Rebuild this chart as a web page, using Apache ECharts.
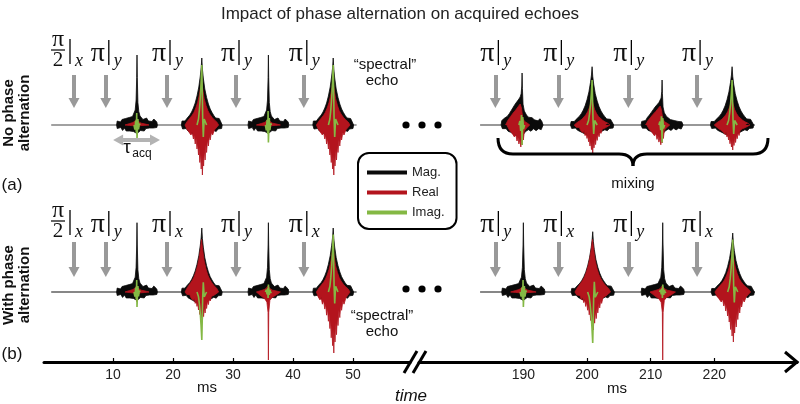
<!DOCTYPE html>
<html>
<head>
<meta charset="utf-8">
<script src="https://cdn.jsdelivr.net/npm/echarts@6/dist/echarts.min.js"></script>
<style>
  html, body { margin: 0; padding: 0; background: #fff; }
  #chart { width: 800px; height: 404px; }
</style>
</head>
<body>
<div id="chart"></div>
<script>
// time axis ticks (ms)
const leftTicks = [10, 20, 30, 40, 50];
const rightTicks = [190, 200, 210, 220];

// pulse times (ms) and pulse phase subscripts
const leftPulses = [3.5, 8.8, 19.0, 30.5, 41.8];
const rightPulses = [185.6, 195.5, 206.5, 217.3];
const topLeftPhases = ['x', 'y', 'y', 'y', 'y'];
const bottomLeftPhases = ['x', 'y', 'x', 'y', 'x'];
const topRightPhases = ['y', 'y', 'y', 'y'];
const bottomRightPhases = ['y', 'x', 'y', 'x'];

// echo centres (ms)
const leftCentres = [14.0, 24.8, 35.9, 46.7];
const topRightCentres = [189.8, 200.8, 211.8, 222.8];
const bottomRightCentres = [190.0, 200.9, 211.9, 222.9];

// echoes: [shape, mag scale, real-up scale, real-down scale, imag tip]
const topLeftEchoes = [['n', 1.0, 0.3, 0.15, -0.3], ['s', 1.0, 0.85, 1.0, 1.2], ['n', 1.0, 0.3, 0.15, -0.35], ['s', 1.0, 0.85, 1.0, 1.2]];
const bottomLeftEchoes = [['n', 0.99, 0.3, 0.2, -0.3], ['s', 0.955, 1.0, 0.6, -0.96], ['n', 0.99, 0.3, 1.36, 0.15], ['s', 0.955, 0.85, 1.22, 1.15]];
const topRightEchoes = [['a', 1.04, 1.0, 1.0, -0.4], ['s', 0.87, 0.5, 0.56, 0.9], ['a', 0.9, 0.9, 0.9, -0.35], ['s', 0.87, 0.5, 0.5, 0.9]];
const bottomRightEchoes = [['n', 0.99, 0.3, 0.15, -0.3], ['s', 0.9, 1.0, 0.76, -1.02], ['n', 0.99, 0.3, 1.36, 0.15], ['s', 0.88, 0.8, 1.0, 1.05]];

// echo envelopes: [offset ms, value]
// narrow echo
const nMagUp = [[-3.4,0],[-3.3,0.08],[-3.0,0.12],[-2.75,0.06],[-2.5,0.11],[-2.2,0.07],[-1.9,0.13],[-1.6,0.09],[-1.3,0.15],[-1.0,0.11],[-0.75,0.17],[-0.5,0.2],[-0.3,0.3],[-0.15,0.5],[-0.05,0.95],[0,1.4],[0.05,0.95],[0.15,0.45],[0.3,0.27],[0.5,0.18],[0.75,0.15],[1.0,0.11],[1.3,0.1],[1.6,0.14],[1.9,0.08],[2.2,0.12],[2.5,0.07],[2.8,0.12],[3.1,0.09],[3.3,0.06],[3.4,0]];
const nMagDn = [[-3.4,0],[-3.3,-0.07],[-3.0,-0.1],[-2.7,-0.05],[-2.4,-0.11],[-2.1,-0.06],[-1.8,-0.12],[-1.5,-0.08],[-1.2,-0.12],[-0.9,-0.09],[-0.6,-0.13],[-0.3,-0.15],[0,-0.17],[0.3,-0.14],[0.6,-0.11],[0.9,-0.08],[1.2,-0.12],[1.5,-0.07],[1.8,-0.11],[2.1,-0.06],[2.4,-0.1],[2.7,-0.06],[3.0,-0.09],[3.3,-0.05],[3.4,0]];
const nReUp = [[-2.0,0],[-1.2,0.1],[-0.7,0.16],[-0.35,0.25],[-0.1,0.4],[0,0.5],[0.1,0.35],[0.35,0.2],[0.7,0.12],[1.2,0.08],[2.0,0]];
const nReDn = [[-2.0,0],[-1.2,-0.06],[-0.6,-0.1],[-0.25,-0.15],[-0.06,-0.3],[0,-1.0],[0.06,-0.3],[0.25,-0.12],[0.6,-0.08],[1.2,-0.05],[2.0,0]];
const nIm = [[-0.5,0],[-0.35,0.3],[-0.22,-0.3],[-0.12,0.5],[-0.05,-0.8],[0,1],[0.06,0.4],[0.15,-0.4],[0.25,0.3],[0.4,-0.1],[0.5,0]];
// spectral echo
const sMagUp = [[-3.4,0],[-3.3,0.08],[-3.0,0.12],[-2.8,0.08],[-2.5,0.13],[-2.2,0.15],[-2.0,0.2],[-1.7,0.26],[-1.4,0.34],[-1.1,0.44],[-0.8,0.58],[-0.5,0.76],[-0.25,0.98],[-0.1,1.15],[0,1.34],[0.1,1.12],[0.25,0.94],[0.5,0.72],[0.8,0.55],[1.1,0.42],[1.4,0.32],[1.7,0.25],[2.0,0.19],[2.3,0.14],[2.6,0.11],[2.9,0.13],[3.1,0.08],[3.3,0.1],[3.4,0]];
const sMagDn = [[-3.4,0],[-3.2,-0.08],[-2.9,-0.11],[-2.6,-0.07],[-2.3,-0.12],[-2.0,-0.14],[-1.6,-0.17],[-1.2,-0.2],[-0.8,-0.23],[-0.4,-0.25],[0,-0.26],[0.4,-0.23],[0.8,-0.2],[1.2,-0.17],[1.6,-0.14],[2.0,-0.11],[2.4,-0.13],[2.7,-0.08],[3.0,-0.11],[3.3,-0.07],[3.4,0]];
const sReUp = [[-2.8,0],[-2.4,0.09],[-2.0,0.16],[-1.6,0.23],[-1.3,0.3],[-1.0,0.4],[-0.7,0.53],[-0.45,0.68],[-0.2,0.88],[-0.05,1.05],[0.05,0.95],[0.2,0.8],[0.4,0.62],[0.7,0.46],[1.0,0.34],[1.3,0.26],[1.7,0.18],[2.1,0.12],[2.5,0.07],[2.8,0]];
const sReDn = [[-2.8,0],[-2.5,-0.08],[-2.2,-0.13],[-2.0,-0.09],[-1.8,-0.2],[-1.6,-0.14],[-1.4,-0.28],[-1.25,-0.2],[-1.1,-0.38],[-0.95,-0.27],[-0.8,-0.48],[-0.68,-0.36],[-0.55,-0.6],[-0.45,-0.45],[-0.33,-0.75],[-0.22,-0.55],[-0.1,-0.88],[0,-0.6],[0.1,-1.0],[0.2,-0.6],[0.3,-0.82],[0.42,-0.5],[0.55,-0.7],[0.68,-0.4],[0.8,-0.55],[0.95,-0.3],[1.1,-0.42],[1.25,-0.22],[1.4,-0.3],[1.6,-0.15],[1.8,-0.2],[2.1,-0.1],[2.4,-0.12],[2.8,0]];
const sIm = [[-0.8,0],[-0.55,0.1],[-0.4,0.25],[-0.25,0.45],[-0.12,0.7],[0,1],[0.07,0.6],[0.15,0.1],[0.25,-0.2],[0.4,0.1],[0.6,0.05],[0.8,0]];
// asymmetric echo during mixing
const aMagUp = [[-3.3,0],[-3.2,0.08],[-2.9,0.12],[-2.6,0.1],[-2.3,0.17],[-2.0,0.22],[-1.7,0.28],[-1.4,0.34],[-1.1,0.4],[-0.8,0.45],[-0.5,0.5],[-0.3,0.54],[-0.15,0.6],[-0.05,0.75],[0,1.0],[0.05,0.7],[0.15,0.4],[0.35,0.27],[0.7,0.19],[1.0,0.15],[1.3,0.12],[1.6,0.14],[1.9,0.1],[2.2,0.13],[2.5,0.08],[2.8,0.12],[3.1,0.07],[3.3,0]];
const aMagDn = [[-3.3,0],[-3.1,-0.07],[-2.8,-0.1],[-2.5,-0.07],[-2.2,-0.12],[-1.8,-0.14],[-1.4,-0.17],[-1.0,-0.2],[-0.6,-0.22],[-0.2,-0.24],[0.2,-0.18],[0.6,-0.12],[1.0,-0.09],[1.4,-0.12],[1.8,-0.07],[2.2,-0.11],[2.6,-0.07],[3.0,-0.09],[3.3,0]];
const aReUp = [[-2.6,0],[-2.2,0.1],[-1.8,0.17],[-1.4,0.24],[-1.0,0.3],[-0.6,0.37],[-0.3,0.42],[-0.1,0.34],[0.1,0.14],[0.4,0.07],[0.8,0.04],[1.2,0]];
const aReDn = [[-2.4,0],[-2.0,-0.1],[-1.8,-0.07],[-1.6,-0.16],[-1.4,-0.12],[-1.2,-0.24],[-1.0,-0.18],[-0.8,-0.32],[-0.65,-0.24],[-0.5,-0.38],[-0.35,-0.28],[-0.2,-0.44],[-0.08,-0.3],[0,-0.4],[0.1,-0.2],[0.2,-0.3],[0.35,-0.12],[0.7,-0.06],[1.2,0]];
const aIm = [[-0.5,0],[-0.35,-0.2],[-0.22,0.3],[-0.1,-0.5],[0,1],[0.1,-0.4],[0.22,0.2],[0.4,0]];

const shapes = {
  n: { magUp: nMagUp, magDn: nMagDn, reUp: nReUp, reDn: nReDn, im: nIm },
  s: { magUp: sMagUp, magDn: sMagDn, reUp: sReUp, reDn: sReDn, im: sIm },
  a: { magUp: aMagUp, magDn: aMagDn, reUp: aReUp, reDn: aReDn, im: aIm }
};

const BLACK = '#0a0a0a';
const RED = '#b3141d';
const GREEN = '#84b844';
const FONT = '"Liberation Sans", Arial, sans-serif';
const SERIF = '"Liberation Serif", "DejaVu Serif", serif';

const series = [];

function areaSeries(name, color, g, data, z) {
  return {
    name, type: 'line', xAxisIndex: g, yAxisIndex: g, data, z,
    symbol: 'none', smooth: false, silent: true, clip: false,
    itemStyle: { color },
    lineStyle: { color, width: 0.8 },
    areaStyle: { color, opacity: 1 }
  };
}

function addEchoes(g, centres, echoes) {
  echoes.forEach(([kind, m, ru, rd, gi], i) => {
    const sh = shapes[kind];
    const t0 = centres[i];
    const mk = (pts, k) => pts.map(([dt, v]) => [t0 + dt, v * k]);
    series.push(areaSeries('Mag.', BLACK, g, mk(sh.magUp, m), 2));
    series.push(areaSeries('Mag.', BLACK, g, mk(sh.magDn, m), 2));
    series.push(areaSeries('Real', RED, g, mk(sh.reUp, ru), 3));
    series.push(areaSeries('Real', RED, g, mk(sh.reDn, rd), 3));
    series.push({
      name: 'Imag.', type: 'line', xAxisIndex: g, yAxisIndex: g, z: 4,
      data: mk(sh.im, gi), symbol: 'none', silent: true, clip: false,
      itemStyle: { color: GREEN }, lineStyle: { color: GREEN, width: 1.6 }
    });
  });
}

function baseline(g, from, to, color, pulses, yTop, yEnd, extra) {
  const arrows = pulses.map(t => [{ coord: [t, yTop] }, { coord: [t, yEnd] }]);
  series.push({
    type: 'line', xAxisIndex: g, yAxisIndex: g, z: 1,
    data: [[from, 0], [to, 0]], symbol: 'none', silent: true,
    lineStyle: { color, width: 1.2 },
    markLine: {
      silent: true, animation: false,
      symbol: ['none', 'triangle'], symbolSize: [11, 10],
      label: { show: false }, emphasis: { disabled: true },
      lineStyle: { color: '#999', width: 4, type: 'solid' },
      data: arrows.concat(extra || [])
    }
  });
}

const tauArrow = [[
  { coord: [10.85, -0.3], symbol: 'triangle', symbolSize: [11, 10], lineStyle: { color: '#b3b3b3', width: 4, type: 'solid' } },
  { coord: [17.0, -0.3], symbol: 'triangle', symbolSize: [11, 10] }
]];

baseline(0, -0.3, 50.6, '#444', leftPulses, 1.0, 0.44, tauArrow);
baseline(1, -0.3, 50.6, '#111', leftPulses, 1.0, 0.4);
baseline(2, 183.2, 226.4, '#333', rightPulses, 1.0, 0.44);
baseline(3, 183.2, 226.4, '#111', rightPulses, 1.0, 0.4);

addEchoes(0, leftCentres, topLeftEchoes);
addEchoes(1, leftCentres, bottomLeftEchoes);
addEchoes(2, topRightCentres, topRightEchoes);
addEchoes(3, bottomRightCentres, bottomRightEchoes);

function timeAxis(g, min, max, ticks, show) {
  return {
    type: 'value', gridIndex: g, min, max, show,
    splitLine: { show: false },
    axisLine: { show: true, onZero: false, lineStyle: { color: '#000', width: 3 } },
    axisTick: { show: true, inside: true, length: 4, customValues: ticks, lineStyle: { color: '#000', width: 1.2 } },
    axisLabel: { show: true, customValues: ticks, fontSize: 14, color: '#222', margin: 6, fontFamily: FONT }
  };
}

const option = {
  animation: false,
  backgroundColor: '#fff',
  title: {
    text: 'Impact of phase alternation on acquired echoes',
    left: 'center', top: 1,
    textStyle: { fontSize: 17, fontWeight: 'normal', color: '#222', fontFamily: FONT }
  },
  legend: {
    left: 358, top: 153, orient: 'vertical',
    data: [{ name: 'Mag.', icon: 'rect' }, { name: 'Real', icon: 'rect' }, { name: 'Imag.', icon: 'rect' }],
    itemWidth: 40, itemHeight: 4, itemGap: 7,
    padding: [13, 12, 10, 9],
    borderColor: '#000', borderWidth: 2, borderRadius: 11,
    selectedMode: false,
    textStyle: { fontSize: 13, color: '#222', fontFamily: FONT }
  },
  grid: [
    { left: 44, top: 50, width: 366, height: 150, outerBoundsMode: 'none' },
    { left: 44, top: 217, width: 366, height: 145, outerBoundsMode: 'none' },
    { left: 419, top: 50, width: 378, height: 150, outerBoundsMode: 'none' },
    { left: 419, top: 217, width: 378, height: 145, outerBoundsMode: 'none' }
  ],
  xAxis: [
    timeAxis(0, -1.5, 59.5, leftTicks, false),
    timeAxis(1, -1.5, 59.5, leftTicks, true),
    timeAxis(2, 173.6, 233.0, rightTicks, false),
    timeAxis(3, 173.6, 233.0, rightTicks, true)
  ],
  yAxis: [
    { type: 'value', gridIndex: 0, min: -1.5, max: 1.5, show: false },
    { type: 'value', gridIndex: 1, min: -1.4, max: 1.5, show: false },
    { type: 'value', gridIndex: 2, min: -1.5, max: 1.5, show: false },
    { type: 'value', gridIndex: 3, min: -1.4, max: 1.5, show: false }
  ],
  series
};

const chart = echarts.init(document.getElementById('chart'));
chart.setOption(option);

// annotations
const gfx = [];
function text(x, y, str, size, extra) {
  gfx.push(Object.assign({
    type: 'text', x, y, z: 20,
    style: Object.assign({ text: str, fontSize: size, fontFamily: FONT, fill: '#111', align: 'center', verticalAlign: 'middle' }, (extra && extra.style) || {})
  }, extra && extra.rotation ? { rotation: extra.rotation } : {}));
}
function line(x1, y1, x2, y2, w, color) {
  gfx.push({ type: 'line', z: 20, shape: { x1, y1, x2, y2 }, style: { stroke: color || '#000', lineWidth: w, lineCap: 'butt' } });
}
function curve(x1, y1, cx, cy, x2, y2, w) {
  gfx.push({ type: 'bezierCurve', z: 20, shape: { x1, y1, x2, y2, cpx1: cx, cpy1: cy }, style: { stroke: '#000', lineWidth: w, fill: null } });
}

function pulseLabels(g, pulses, phases, off, hasFrac) {
  pulses.forEach((t, i) => {
    const ax = chart.convertToPixel({ xAxisIndex: g, yAxisIndex: g }, [t, 0])[0];
    if (hasFrac && i === 0) {
      text(ax - 16, 40 + off, 'π', 24, { style: { fontFamily: SERIF } });
      line(ax - 23, 50 + off, ax - 9, 50 + off, 1.2);
      text(ax - 16, 60 + off, '2', 21, { style: { fontFamily: SERIF } });
      line(ax - 4, 39 + off, ax - 4, 64 + off, 1.3);
      text(ax + 5, 61 + off, phases[i], 18, { style: { fontFamily: SERIF, fontStyle: 'italic' } });
    } else {
      text(ax - 8, 54 + off, 'π', 28, { style: { fontFamily: SERIF } });
      line(ax + 3, 40 + off, ax + 3, 65 + off, 1.3);
      text(ax + 12, 61 + off, phases[i], 18, { style: { fontFamily: SERIF, fontStyle: 'italic' } });
    }
  });
}
pulseLabels(0, leftPulses, topLeftPhases, 0, true);
pulseLabels(1, leftPulses, bottomLeftPhases, 171, true);
pulseLabels(2, rightPulses, topRightPhases, 0, false);
pulseLabels(3, rightPulses, bottomRightPhases, 171, false);

// row labels
text(17, 113, 'No phase\nalternation', 15, { rotation: Math.PI / 2, style: { fontWeight: 'bold', lineHeight: 16, fill: '#111' } });
text(17, 285, 'With phase\nalternation', 15, { rotation: Math.PI / 2, style: { fontWeight: 'bold', lineHeight: 16, fill: '#111' } });
text(12, 185, '(a)', 17);
text(12, 354, '(b)', 17);

// tau_acq
text(127, 148, 'τ', 19);
text(142, 154, 'acq', 12);

// spectral echo notes
text(385, 65, '\u201Cspectral\u201D', 15);
text(382, 81, 'echo', 15);
text(382, 316, '\u201Cspectral\u201D', 15);
text(382, 332, 'echo', 15);

// ellipses
[406, 422, 438].forEach(x => {
  gfx.push({ type: 'circle', z: 20, shape: { cx: x, cy: 125, r: 3.6 }, style: { fill: '#000' } });
  gfx.push({ type: 'circle', z: 20, shape: { cx: x, cy: 289, r: 3.6 }, style: { fill: '#000' } });
});

// mixing brace
curve(498, 138, 498, 154, 513, 154, 3);
line(513, 154, 619, 154, 3);
curve(619, 154, 633, 154, 633, 166, 3);
curve(633, 166, 633, 154, 647, 154, 3);
line(647, 154, 753, 154, 3);
curve(753, 154, 768, 154, 768, 138, 3);
text(633, 184, 'mixing', 15);

// axis break and arrow head
line(404, 373, 417, 351, 3);
line(413, 373, 426, 351, 3);
gfx.push({ type: 'polyline', z: 20, shape: { points: [[785, 352], [797, 362], [785, 372]] }, style: { stroke: '#000', lineWidth: 3, fill: null } });
text(207, 388, 'ms', 15);
text(617, 389, 'ms', 15);
text(411, 396, 'time', 17, { style: { fontStyle: 'italic' } });

chart.setOption({ graphic: gfx });
</script>
</body>
</html>
